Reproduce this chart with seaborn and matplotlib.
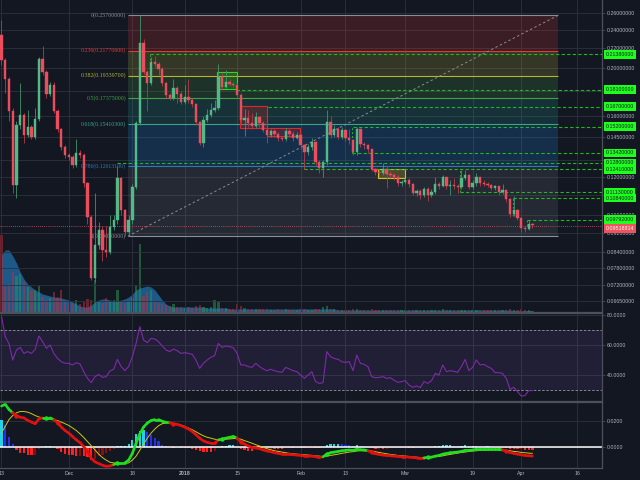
import numpy as np
import pandas as pd
import matplotlib
matplotlib.use('Agg')
import matplotlib.pyplot as plt
import matplotlib.transforms as mtransforms
from matplotlib.patches import Rectangle
from matplotlib.ticker import NullLocator, NullFormatter
import seaborn as sns

sns.set_style('dark')
plt.rcParams['font.family'] = ['Liberation Sans', 'DejaVu Sans']

BG = '#131722'
GRID = '#2e323d'
TXT = '#b2b5be'
SEP = '#4c505b'

# ---- data (daily candles from 2017-11-13) ----
start_date = '2017-11-13'
first_open = 0.2343
closes = [0.2082, 0.1903, 0.1635, 0.1152, 0.1531, 0.1605, 0.1460, 0.1517, 0.1446, 0.1575,
          0.2092, 0.1967, 0.1772, 0.1850, 0.1635, 0.1502, 0.1379, 0.1328, 0.1316, 0.1267,
          0.1341, 0.1328, 0.1163, 0.0990, 0.0742, 0.0868, 0.0931, 0.0847, 0.0839, 0.0945,
          0.0976, 0.1191, 0.1024, 0.0922, 0.0976, 0.1141, 0.1545, 0.2257, 0.1967, 0.1868,
          0.2062, 0.2043, 0.1995, 0.1868, 0.1764, 0.1739, 0.1824, 0.1772, 0.1707, 0.1748,
          0.1723, 0.1691, 0.1553, 0.1406, 0.1567, 0.1605, 0.1643, 0.1659, 0.1921, 0.1832,
          0.1876, 0.1859, 0.1850, 0.1764, 0.1567, 0.1582, 0.1545, 0.1524, 0.1590, 0.1545,
          0.1495, 0.1460, 0.1488, 0.1467, 0.1439, 0.1433, 0.1488, 0.1467, 0.1439, 0.1460,
          0.1392, 0.1347, 0.1379, 0.1413, 0.1285, 0.1249, 0.1285, 0.1553, 0.1460, 0.1502,
          0.1446, 0.1495, 0.1439, 0.1426, 0.1347, 0.1502, 0.1399, 0.1392, 0.1366, 0.1243,
          0.1226, 0.1220, 0.1243, 0.1214, 0.1208, 0.1197, 0.1163, 0.1169, 0.1180, 0.1158,
          0.1109, 0.1120, 0.1099, 0.1131, 0.1099, 0.1115, 0.1158, 0.1147, 0.1197, 0.1147,
          0.1152, 0.1147, 0.1141, 0.1191, 0.1208, 0.1141, 0.1163, 0.1197, 0.1163, 0.1158,
          0.1152, 0.1136, 0.1147, 0.1115, 0.1125, 0.1078, 0.1005, 0.1024, 0.0986, 0.0940,
          0.0936, 0.0958, 0.0952]
highs = [0.2516, 0.2100, 0.1920, 0.1660, 0.1560, 0.1868, 0.1620, 0.1640, 0.1530, 0.1660,
         0.2110, 0.2225, 0.1990, 0.1880, 0.1880, 0.1650, 0.1510, 0.1390, 0.1340, 0.1330,
         0.1430, 0.1360, 0.1340, 0.1170, 0.1000, 0.1110, 0.0970, 0.0950, 0.0950, 0.1000,
         0.1000, 0.1261, 0.1200, 0.1030, 0.1000, 0.1160, 0.1560, 0.2570, 0.2300, 0.1990,
         0.2110, 0.2120, 0.2060, 0.2010, 0.1880, 0.1780, 0.1900, 0.1840, 0.1800, 0.1850,
         0.1900, 0.1740, 0.1700, 0.1560, 0.1600, 0.1650, 0.1700, 0.1720, 0.2043, 0.1960,
         0.1990, 0.1900, 0.1880, 0.1870, 0.1780, 0.1650, 0.1640, 0.1620, 0.1630, 0.1600,
         0.1560, 0.1510, 0.1500, 0.1500, 0.1480, 0.1450, 0.1510, 0.1500, 0.1490, 0.1480,
         0.1470, 0.1400, 0.1400, 0.1440, 0.1420, 0.1300, 0.1300, 0.1640, 0.1600, 0.1530,
         0.1520, 0.1520, 0.1500, 0.1500, 0.1430, 0.1520, 0.1510, 0.1410, 0.1400, 0.1370,
         0.1250, 0.1240, 0.1280, 0.1260, 0.1230, 0.1220, 0.1210, 0.1180, 0.1190, 0.1190,
         0.1165, 0.1130, 0.1130, 0.1140, 0.1140, 0.1130, 0.1200, 0.1170, 0.1210, 0.1200,
         0.1180, 0.1190, 0.1160, 0.1240, 0.1240, 0.1215, 0.1180, 0.1220, 0.1200, 0.1180,
         0.1170, 0.1160, 0.1155, 0.1150, 0.1160, 0.1130, 0.1085, 0.1094, 0.1030, 0.0990,
         0.0950, 0.0975, 0.0965]
lows = [0.2033, 0.1780, 0.1560, 0.1110, 0.1085, 0.1500, 0.1406, 0.1450, 0.1430, 0.1430,
        0.1560, 0.1940, 0.1740, 0.1760, 0.1620, 0.1480, 0.1360, 0.1310, 0.1300, 0.1250,
        0.1255, 0.1310, 0.1140, 0.0960, 0.0735, 0.0730, 0.0850, 0.0804, 0.0820, 0.0830,
        0.0930, 0.0960, 0.1000, 0.0905, 0.0905, 0.0960, 0.1130, 0.1530, 0.1950, 0.1636,
        0.1850, 0.2010, 0.1940, 0.1840, 0.1740, 0.1720, 0.1720, 0.1700, 0.1690, 0.1690,
        0.1700, 0.1670, 0.1530, 0.1395, 0.1380, 0.1550, 0.1590, 0.1630, 0.1640, 0.1810,
        0.1820, 0.1840, 0.1830, 0.1740, 0.1530, 0.1453, 0.1520, 0.1500, 0.1510, 0.1520,
        0.1480, 0.1406, 0.1450, 0.1450, 0.1420, 0.1420, 0.1420, 0.1450, 0.1420, 0.1430,
        0.1370, 0.1243, 0.1330, 0.1360, 0.1270, 0.1220, 0.1200, 0.1270, 0.1440, 0.1450,
        0.1430, 0.1430, 0.1420, 0.1400, 0.1330, 0.1330, 0.1380, 0.1370, 0.1340, 0.1230,
        0.1210, 0.1200, 0.1210, 0.1136, 0.1190, 0.1180, 0.1150, 0.1150, 0.1160, 0.1140,
        0.1100, 0.1095, 0.1080, 0.1090, 0.1070, 0.1090, 0.1105, 0.1130, 0.1140, 0.1130,
        0.1100, 0.1130, 0.1110, 0.1130, 0.1180, 0.1130, 0.1130, 0.1150, 0.1150, 0.1150,
        0.1140, 0.1125, 0.1125, 0.1100, 0.1105, 0.1065, 0.0990, 0.0995, 0.0975, 0.0925,
        0.0925, 0.0930, 0.0940]
volume = [77, 25, 28, 40, 36, 38, 30, 25, 22, 22,
          26, 15, 12, 14, 20, 14, 22, 10, 8, 9,
          12, 8, 10, 13, 12, 32, 10, 9, 14, 10,
          12, 22, 10, 9, 10, 14, 26, 68, 16, 20,
          22, 10, 9, 8, 7, 6, 8, 5, 5, 4,
          5, 4, 6, 7, 5, 4, 5, 12, 10, 4,
          4, 3, 3, 8, 6, 4, 3, 3, 3, 3,
          3, 3, 2, 2, 3, 2, 3, 2, 2, 2,
          3, 3, 2, 2, 3, 3, 5, 6, 3, 3,
          2, 2, 2, 2, 3, 3, 2, 2, 2, 3,
          2, 2, 2, 2, 2, 2, 2, 2, 2, 2,
          2, 2, 2, 2, 2, 2, 2, 2, 3, 2,
          2, 2, 2, 2, 2, 2, 2, 2, 2, 2,
          2, 2, 2, 2, 2, 2, 3, 2, 2, 3,
          2, 2, 1]
volume_ma = [57, 62, 62, 56, 49, 40, 33, 28, 25, 22,
             20, 18, 17, 16, 15, 15, 14, 13, 12, 10,
             8, 6, 5, 5, 7, 10, 12, 13, 13, 12,
             11, 11, 12, 13, 15, 18, 22, 24, 25, 26,
             25, 22, 17, 12, 8, 6, 5, 5, 5, 5,
             5, 5, 5, 5, 5, 4, 4, 4, 4, 4,
             4, 3, 3, 3, 3, 3, 3, 3, 3, 3,
             3, 3, 3, 3, 3, 3, 3, 3, 3, 3,
             3, 3, 3, 3, 3, 3, 3, 3, 3, 3,
             2, 2, 2, 2, 2, 2, 2, 2, 2, 2,
             2, 2, 2, 2, 2, 2, 2, 2, 2, 2,
             2, 2, 2, 2, 2, 2, 2, 2, 2, 2,
             2, 2, 2, 2, 2, 2, 2, 2, 2, 2,
             2, 2, 2, 2, 2, 2, 2, 1.5, 1.5, 1.5,
             1.5, 1.5, 1.5]
rsi = [79, 65.5, 61, 50, 56.7, 58.4, 54.4, 55.6, 54.4, 57,
       66, 62.2, 57.8, 60, 54.4, 51, 48.9, 47.8, 47.8, 46.7,
       48.2, 47.3, 42.2, 37.8, 34.9, 38.9, 40.4, 38.4, 38.9, 42.7,
       43.8, 50.4, 45.6, 42.9, 45.6, 52.2, 61.1, 72.2, 63.3, 61.6,
       64.4, 64, 62.2, 59.3, 56.7, 55.6, 57.3, 56.2, 54.4, 54.9,
       54.4, 53.8, 50, 44.4, 47.8, 50, 51.8, 52.9, 61.1, 58.4,
       59.3, 58.9, 58.2, 54.4, 46.7, 46.7, 45.6, 45.1, 47.8, 45.6,
       44, 42.9, 43.8, 42.9, 42.2, 41.8, 45.1, 44, 42.9, 42.2,
       40, 37.8, 40, 42.2, 35.6, 34.4, 34.9, 55.6, 52.2, 51,
       50.5, 48.9, 48.4, 48.9, 42.9, 53.3, 47.8, 47.1, 45.6, 38.9,
       38.2, 38.4, 38.9, 37.8, 38.2, 36.5, 35.1, 35.6, 36.2, 33.3,
       31.8, 32.7, 31.6, 35.6, 34.4, 36.2, 41.1, 40, 46.7, 42.2,
       42.9, 42.5, 41.8, 45.6, 50.4, 42.9, 45.1, 50, 46.7, 47.1,
       45.6, 44.4, 41.6, 41.6, 41, 37.8, 30.4, 31.8, 28.9, 26,
       26.2, 29.6, 29.6]
macd = [0.0315, 0.0328, 0.0289, 0.0263, 0.0242, 0.0229, 0.0224, 0.0205, 0.0192, 0.0179,
        0.0216, 0.0224, 0.0224, 0.0224, 0.0211, 0.0185, 0.0153, 0.0127, 0.0107, 0.0081,
        0.0055, 0.0034, 0.0003, -0.0036, -0.0088, -0.0114, -0.0127, -0.0140, -0.0148, -0.0146,
        -0.0135, -0.0122, -0.0122, -0.0122, -0.0101, -0.0049, 0.0029, 0.0101, 0.0153, 0.0185,
        0.0203, 0.0211, 0.0211, 0.0198, 0.0190, 0.0186, 0.0178, 0.0175, 0.0164, 0.0153,
        0.0138, 0.0120, 0.0094, 0.0068, 0.0047, 0.0036, 0.0029, 0.0029, 0.0055, 0.0060,
        0.0068, 0.0075, 0.0081, 0.0068, 0.0042, 0.0023, 0.0008, -0.0003, -0.0005, -0.0013,
        -0.0023, -0.0031, -0.0036, -0.0044, -0.0049, -0.0055, -0.0055, -0.0057, -0.0060, -0.0062,
        -0.0065, -0.0068, -0.0068, -0.0070, -0.0075, -0.0081, -0.0075, -0.0055, -0.0044, -0.0039,
        -0.0034, -0.0029, -0.0026, -0.0023, -0.0026, -0.0018, -0.0021, -0.0023, -0.0029, -0.0042,
        -0.0052, -0.0057, -0.0062, -0.0065, -0.0068, -0.0070, -0.0073, -0.0075, -0.0075, -0.0078,
        -0.0081, -0.0083, -0.0083, -0.0083, -0.0080, -0.0078, -0.0070, -0.0065, -0.0055, -0.0049,
        -0.0044, -0.0042, -0.0039, -0.0034, -0.0026, -0.0026, -0.0023, -0.0018, -0.0018, -0.0018,
        -0.0018, -0.0018, -0.0018, -0.0018, -0.0023, -0.0031, -0.0042, -0.0049, -0.0055, -0.0060,
        -0.0065, -0.0068, -0.0070]
signal = [0.0107, 0.0159, 0.0211, 0.0242, 0.0263, 0.0273, 0.0273, 0.0268, 0.0257, 0.0242,
          0.0231, 0.0224, 0.0218, 0.0216, 0.0211, 0.0203, 0.0192, 0.0179, 0.0166, 0.0146,
          0.0127, 0.0101, 0.0073, 0.0042, 0.0010, -0.0023, -0.0055, -0.0081, -0.0101, -0.0117,
          -0.0122, -0.0127, -0.0127, -0.0127, -0.0122, -0.0101, -0.0070, -0.0023, 0.0023, 0.0068,
          0.0107, 0.0138, 0.0164, 0.0179, 0.0185, 0.0185, 0.0182, 0.0177, 0.0169, 0.0159,
          0.0146, 0.0133, 0.0117, 0.0101, 0.0086, 0.0075, 0.0068, 0.0060, 0.0055, 0.0055,
          0.0060, 0.0062, 0.0065, 0.0065, 0.0060, 0.0049, 0.0039, 0.0029, 0.0018, 0.0008,
          -0.0003, -0.0013, -0.0021, -0.0029, -0.0034, -0.0039, -0.0044, -0.0049, -0.0052, -0.0055,
          -0.0057, -0.0060, -0.0062, -0.0065, -0.0068, -0.0070, -0.0075, -0.0070, -0.0065, -0.0060,
          -0.0055, -0.0049, -0.0044, -0.0039, -0.0036, -0.0031, -0.0029, -0.0029, -0.0029, -0.0031,
          -0.0036, -0.0042, -0.0047, -0.0052, -0.0057, -0.0060, -0.0065, -0.0068, -0.0070, -0.0073,
          -0.0075, -0.0078, -0.0081, -0.0081, -0.0081, -0.0078, -0.0075, -0.0073, -0.0068, -0.0062,
          -0.0057, -0.0052, -0.0047, -0.0042, -0.0039, -0.0034, -0.0031, -0.0029, -0.0026, -0.0023,
          -0.0023, -0.0021, -0.0021, -0.0021, -0.0023, -0.0026, -0.0029, -0.0034, -0.0036, -0.0042,
          -0.0044, -0.0047, -0.0049]

# fibonacci retracement drawing
fib_high = 0.257
fib_low = 0.0905
fib_ratios = [0, 0.236, 0.382, 0.5, 0.618, 0.786, 1]
fib_from, fib_to = 33.8, 148.8

# horizontal support / resistance rays
support_prices = [0.2138, 0.181, 0.167, 0.152, 0.1342, 0.128, 0.1241, 0.1113, 0.1084, 0.09792]
support_from = [39.7, 62.7, 71.3, 94.0, 93.7, 30.9, 80.9, 122.6, 136.8, 140.5]
last_price = 0.09518814

# price grid levels; the ones hidden behind the green labels get no text
price_ticks = [0.26, 0.24, 0.22, 0.20, 0.18, 0.16, 0.145, 0.13, 0.12, 0.11,
               0.10, 0.092, 0.084, 0.078, 0.072, 0.0665]
hidden_ticks = [0.18, 0.13, 0.11]
tick_dates = ['2017-11-13', '2017-12-01', '2017-12-18', '2018-01-01', '2018-01-15',
              '2018-02-01', '2018-02-13', '2018-03-01', '2018-03-19', '2018-04-01', '2018-04-16']
tick_labels = ['13', 'Dec', '18', '2018', '15', 'Feb', '13', 'Mar', '19', 'Apr', '16']

# ---- derived ----
n = len(closes)
x = np.arange(n)
c = np.array(closes)
o = np.array([first_open] + closes[:-1])
up = c >= o
macd_a = np.array(macd)
sig_a = np.array(signal)
hist = np.round(macd_a - sig_a, 6)
tick_pos = (pd.to_datetime(tick_dates) - pd.Timestamp(start_date)).days.values
XLIM = (-0.4, 160.6)

fig = plt.figure(figsize=(6.4, 4.8), dpi=100, facecolor=BG)
W = 602 / 640
ax_vol = fig.add_axes([0, 168 / 480, W, 312 / 480])
ax = fig.add_axes([0, 168 / 480, W, 312 / 480])
ax_rsi = fig.add_axes([0, 79 / 480, W, 88 / 480])
ax_macd = fig.add_axes([0, 12 / 480, W, 66 / 480])
ax_vol.set_zorder(0)
ax.set_zorder(1)
ax.patch.set_visible(False)

for a in (ax_vol, ax, ax_rsi, ax_macd):
    a.set_xlim(*XLIM)
    a.set_facecolor(BG)
    for s in a.spines.values():
        s.set_color(SEP)
        s.set_linewidth(0.9)
    a.spines['left'].set_visible(False)
    a.set_xticks(tick_pos)
    a.tick_params(axis='x', length=0, labelbottom=False)
    a.tick_params(axis='y', colors=TXT, labelsize=3.8, length=2, width=0.5, pad=1.2,
                  left=False, labelleft=False, right=True, labelright=True)
    a.tick_params(axis='y', color=SEP)
    a.grid(True, axis='x', color=GRID, lw=0.6)

# volume (bottom of price pane)
ax_vol.set_ylim(0, 312)
ax_vol.set_yticks([])
ax_vol.tick_params(right=False, labelright=False)
for s in ax_vol.spines.values():
    s.set_visible(False)
ax_vol.grid(False)
ax_vol.fill_between(x, 0, volume_ma, color='#2174b5', alpha=0.7, lw=0)
ax_vol.bar(x, volume, width=0.62, color=np.where(up, '#2b9a52', '#c2303d'), alpha=0.5, lw=0)

# price pane
ax.set_yscale('log')
ax.set_ylim(0.06324, 0.2765)
ax.set_yticks(price_ticks,
              labels=['' if t in hidden_ticks else f'{t:.8f}' for t in price_ticks])
ax.yaxis.set_minor_locator(NullLocator())
ax.yaxis.set_minor_formatter(NullFormatter())
ax.grid(True, axis='y', color=GRID, lw=0.6)
ax.set_axisbelow(True)
ax.spines['top'].set_visible(False)

fib_prices = [fib_high - r * (fib_high - fib_low) for r in fib_ratios]
line_cols = ['#8a8d96', '#e53935', '#b5b531', '#43a047', '#3aa58f', '#2f78b5', '#8a8d96']
fill_cols = ['#e53935', '#c6c633', '#4caf50', '#26a69a', '#2196f3', '#787b86']
for k in range(6):
    ax.fill_between([fib_from, fib_to], fib_prices[k + 1], fib_prices[k],
                    color=fill_cols[k], alpha=0.19, lw=0, zorder=0.6)
for r, p, col in zip(fib_ratios, fib_prices, line_cols):
    ax.hlines(p, fib_from, fib_to, color=col, lw=0.8, zorder=1)
    ax.text(fib_from - 0.5, p, f'{r:g}({p:.8f})', color=col, fontsize=4.2,
            ha='right', va='center', family=['Liberation Serif', 'DejaVu Serif'], zorder=1)
ax.plot([fib_from, fib_to], [fib_low, fib_high], color='#8a8d96', lw=0.7,
        dashes=(2.5, 2.5), zorder=1)

# drawn zones
boxes = [((57.6, 62.9), (0.1815, 0.1967), '#22dd22'),
         ((63.8, 71.0), (0.1506, 0.1675), '#e02828'),
         ((71.0, 79.8), (0.1454, 0.1506), '#e02828'),
         ((100.7, 107.9), (0.1191, 0.1243), '#d8c21a')]
for (x0, x1), (p0, p1), col in boxes:
    ax.add_patch(Rectangle((x0, p0), x1 - x0, p1 - p0, facecolor=col, alpha=0.22,
                           edgecolor='none', zorder=1.5))
    ax.add_patch(Rectangle((x0, p0), x1 - x0, p1 - p0, facecolor='none',
                           edgecolor=col, lw=0.8, zorder=1.6))

# support rays
for p, x0 in zip(support_prices, support_from):
    ax.hlines(p, x0, XLIM[1], color='#1fb81f', lw=0.8, linestyles=(0, (3, 2)), zorder=2)
for x0, p0, p1 in [(39.7, 0.2138, 0.2043), (80.9, 0.128, 0.1241), (93.7, 0.152, 0.1342),
                   (122.6, 0.1241, 0.1113), (136.8, 0.1084, 0.0995), (140.5, 0.09792, 0.0950)]:
    ax.vlines(x0, p1, p0, color='#1fb81f', lw=0.7, linestyles=(0, (2, 2)), zorder=2)
ax.hlines(last_price, XLIM[0], XLIM[1], color='#e0505f', lw=0.6,
          linestyles=(0, (1, 1.5)), zorder=2)

# candles
wick_cols = np.where(up, '#3f946b', '#b63c4a')
body_cols = np.where(up, '#53b987', '#eb4d5c')
ax.vlines(x, lows, highs, colors=wick_cols, lw=0.6, zorder=3)
ax.bar(x, np.abs(c - o), bottom=np.minimum(o, c), width=0.62, color=body_cols,
       edgecolor=body_cols, lw=0.3, zorder=3.2)

# right-axis price labels
trans = mtransforms.blended_transform_factory(ax.transAxes, ax.transData)
for p in support_prices:
    ax.text(1.006, p, f'{p:.8f}', transform=trans, fontsize=3.8, color='#131722',
            ha='left', va='center', zorder=5, clip_on=False,
            bbox=dict(boxstyle='square,pad=0.32', fc='#1cff1c', ec='none'))
ax.annotate(f'{last_price:.8f}', xy=(1.006, last_price), xycoords=trans,
            xytext=(0, -2.2), textcoords='offset points', fontsize=3.8, color='white',
            ha='left', va='center', zorder=6, annotation_clip=False,
            bbox=dict(boxstyle='square,pad=0.32', fc='#f0525f', ec='none'))

# RSI pane
ax_rsi.set_ylim(22.67, 81.33)
ax_rsi.set_yticks([40, 60, 80], labels=['40.0000', '60.0000', '80.0000'])
ax_rsi.grid(True, axis='y', color=GRID, lw=0.6)
ax_rsi.axhspan(30, 70, color='#7e57c2', alpha=0.13, lw=0)
for lvl in (30, 70):
    ax_rsi.axhline(lvl, color='#9598a1', lw=0.6, dashes=(3, 2))
sns.lineplot(x=x, y=rsi, ax=ax_rsi, color='#7f2aa8', lw=0.8)
ax_rsi.set_xlim(*XLIM)

# MACD pane
ax_macd.set_ylim(-0.01615, 0.03462)
ax_macd.set_yticks([0.0, 0.02], labels=['0.0000', '0.0200'])
ax_macd.grid(True, axis='y', color=GRID, lw=0.6)
prev = np.concatenate([[hist[0]], hist[:-1]])
hist_cols = np.where(hist >= 0, np.where(hist >= prev, '#22d3e6', '#2432f0'),
                     np.where(hist <= prev, '#ff2020', '#8b0d0d'))
ax_macd.bar(x, hist, width=0.6, color=hist_cols, lw=0)
ax_macd.axhline(0, color='white', lw=1.1)
sns.lineplot(x=x, y=signal, ax=ax_macd, color='#c9c814', lw=0.7)
sgn = np.sign(hist)
for i in range(1, n):
    if sgn[i] == 0:
        sgn[i] = sgn[i - 1]
for i in range(n - 1):
    col = '#1ee01e' if sgn[i + 1] > 0 else '#e31010'
    ax_macd.plot(x[i:i + 2], macd_a[i:i + 2], color=col, lw=1.9, solid_capstyle='round')
for i in range(1, n):
    if sgn[i] != sgn[i - 1]:
        ax_macd.plot(x[i], macd_a[i], 'o', ms=3.2, mec='none',
                     color='#1ee01e' if sgn[i] > 0 else '#e31010')
ax_macd.set_xlim(*XLIM)
ax_macd.set_xlabel('')
ax_rsi.set_xlabel('')
ax_macd.set_xticks(tick_pos, labels=tick_labels)
ax_macd.tick_params(axis='x', labelbottom=True, colors=TXT, labelsize=3.8, pad=2)
ax_macd.get_xticklabels()[3].set_fontweight('bold')

fig.savefig('out.png', dpi=100, facecolor=BG)
